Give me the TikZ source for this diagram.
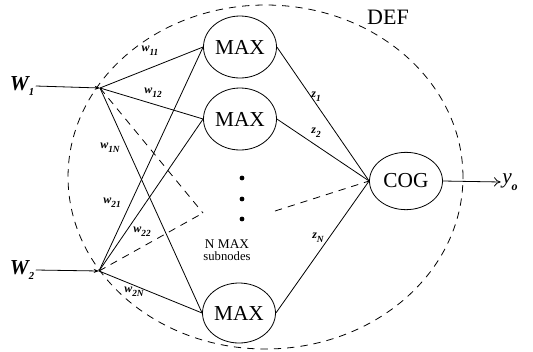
\documentclass[tikz,border=0pt]{standalone}
\usepackage{fontspec}
\setmainfont{Liberation Serif}
\usetikzlibrary{shapes.geometric,arrows.meta}
\begin{document}
\begin{tikzpicture}[x=0.75pt,y=-0.75pt,
  conn/.style={line width=0.6pt},
  dsh/.style={line width=0.6pt,dash pattern=on 5.5pt off 4.5pt},
  unit/.style={draw,ellipse,line width=0.6pt,inner sep=0pt,minimum width=54.75pt,minimum height=46.5pt,font=\fontsize{16}{16}\selectfont},
  wlab/.style={font=\fontsize{9}{9}\selectfont\bfseries\itshape,inner sep=0pt},
  bigw/.style={font=\fontsize{16}{16}\selectfont\bfseries\itshape,inner sep=1pt},
  dot/.style={circle,fill,inner sep=0pt,minimum size=3.6pt}
]
\useasboundingbox (0,0) rectangle (533,351);
% DEF region
\draw[dsh] (265.5,177) ellipse [x radius=148.1pt, y radius=129pt];
\node[font=\fontsize{16.5}{16.5}\selectfont] (def) at (388,17) {DEF};
% junctions
\coordinate (j1) at (100,88);
\coordinate (j2) at (99,271);
\coordinate (h1) at (203,213);
\coordinate (h2) at (275,211);
% nodes
\node[unit] (m1) at (240,47) {MAX};
\node[unit] (m2) at (240,119) {MAX};
\node[unit,minimum height=45pt] (m3) at (239,313) {MAX};
\node[unit,minimum height=43pt] (cog) at (406,181) {COG};
\node[bigw] (W1) at (22,86) {W\raisebox{-3.5pt}{\fontsize{8}{8}\selectfont 1}};
\node[bigw] (W2) at (22,270) {W\raisebox{-3.5pt}{\fontsize{8}{8}\selectfont 2}};
\node[font=\fontsize{16}{16}\selectfont\itshape,inner sep=1pt] (yo) at (510,182) {y\raisebox{-5pt}{\fontsize{9}{9}\selectfont\bfseries o}};
\node[dot] (d1) at (242,178) {};
\node[dot] (d2) at (242,199) {};
\node[dot] (d3) at (242,219) {};
\node[font=\fontsize{10}{10}\selectfont,align=center,inner sep=0pt] (nmax) at (227,250) {N MAX\\[-1pt]{\fontsize{9.5}{9.5}\selectfont subnodes}};
% inputs
\draw[conn,-{Stealth[length=4pt,width=3pt]}] (W1.east) -- (j1);
\draw[conn,-{Stealth[length=4pt,width=3pt]}] (W2.east) -- (j2);
% weights
\draw[conn] (j1) -- (m1.west);
\draw[conn] (j1) -- (m2.west);
\draw[conn] (j1) -- (m3.west);
\draw[conn] (j2) -- (m1.west);
\draw[conn] (j2) -- (m2.west);
\draw[conn] (j2) -- (m3.west);
\draw[dsh] (j1) -- (h1);
\draw[dsh] (j2) -- (h1);
\draw[dsh] (h2) -- (cog.west);
% outputs
\draw[conn] (m1.east) -- (cog.west);
\draw[conn] (m2.east) -- (cog.west);
\draw[conn] (m3.east) -- (cog.west);
\draw[conn,-{To[length=5pt,width=7pt]}] (cog.east) -- (yo.west);
% labels
\node[wlab] (w11) at (150,51) {w\raisebox{-3pt}{\fontsize{7}{7}\selectfont 11}};
\node[wlab] (w12) at (153,93) {w\raisebox{-3pt}{\fontsize{7}{7}\selectfont 12}};
\node[wlab] (w1n) at (110,148) {w\raisebox{-3pt}{\fontsize{7}{7}\selectfont 1N}};
\node[wlab] (w21) at (112,203) {w\raisebox{-3pt}{\fontsize{7}{7}\selectfont 21}};
\node[wlab] (w22) at (142,232) {w\raisebox{-3pt}{\fontsize{7}{7}\selectfont 22}};
\node[wlab] (w2n) at (134,292) {w\raisebox{-3pt}{\fontsize{7}{7}\selectfont 2N}};
\node[wlab] (z1) at (316,97) {z\raisebox{-3pt}{\fontsize{7}{7}\selectfont 1}};
\node[wlab] (z2) at (316,133) {z\raisebox{-3pt}{\fontsize{7}{7}\selectfont 2}};
\node[wlab] (zn) at (318,238) {z\raisebox{-3pt}{\fontsize{7}{7}\selectfont N}};
\end{tikzpicture}
\end{document}
